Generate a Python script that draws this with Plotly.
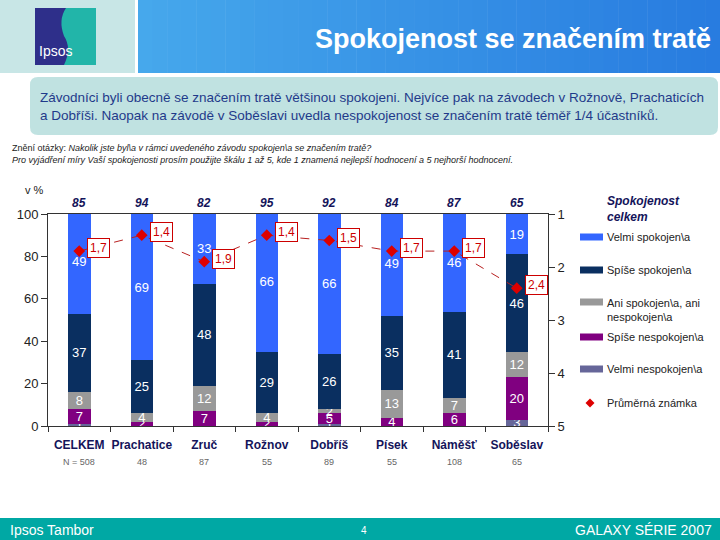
import plotly.graph_objects as go

categories = ["CELKEM", "Prachatice", "Zruč", "Rožnov", "Dobříš", "Písek", "Náměšť", "Soběslav"]
n_counts = [508, 48, 87, 55, 89, 55, 108, 65]
celkem = [85, 94, 82, 95, 92, 84, 87, 65]
velmi_spok = [49, 69, 33, 66, 66, 49, 46, 19]
spise_spok = [37, 25, 48, 29, 26, 35, 41, 46]
ani = [8, 4, 12, 4, 2, 13, 7, 12]
spise_nesp = [7, 2, 7, 2, 5, 4, 6, 20]
velmi_nesp = [1, 0, 0, 0, 1, 0, 0, 3]
prumer = [1.7, 1.4, 1.9, 1.4, 1.5, 1.7, 1.7, 2.4]

series_names = ["Velmi nespokojen\\a", "Spíše nespokojen\\a", "Ani spokojen\\a, ani nespokojen\\a",
                "Spíše spokojen\\a", "Velmi spokojen\\a"]
series_vals = [velmi_nesp, spise_nesp, ani, spise_spok, velmi_spok]
series_cols = ["#666699", "#800080", "#999999", "#0a2f60", "#3366ff"]

W, H = 720, 540
L, R, T, B = 48, 548, 214, 426


def px(x):
    return (x - L) / (R - L)


def py(y):
    return (B - y) / (B - T)


fig = go.Figure()
for name, vals, col in zip(series_names, series_vals, series_cols):
    fig.add_trace(go.Bar(
        x=categories, y=vals, name=name, marker=dict(color=col, line=dict(width=0)),
        width=0.36, text=[str(v) if v > 0 else "" for v in vals],
        textposition="inside", insidetextanchor="middle", constraintext="none",
        textangle=0, textfont=dict(color="white", size=13, family="Liberation Sans"),
        showlegend=False))

fig.add_trace(go.Scatter(
    x=categories, y=prumer, yaxis="y2", mode="lines+markers", name="Průměrná známka",
    line=dict(color="#b82020", width=1, dash="dash"),
    marker=dict(symbol="diamond", size=9, color="#dd0000"), showlegend=False))

shapes = []
ann = []

# header
shapes.append(dict(type="rect", xref="paper", yref="paper", x0=px(0), x1=px(135), y0=py(0), y1=py(73),
                   fillcolor="#c8e6e6", line=dict(width=0), layer="below"))
n = 40
x_start, x_end = 138, 720
c0, c1 = (70, 168, 236), (40, 124, 224)
for i in range(n):
    t = i / (n - 1)
    c = tuple(int(c0[k] + (c1[k] - c0[k]) * t) for k in range(3))
    xa = x_start + (x_end - x_start) * i / n
    xb = x_start + (x_end - x_start) * (i + 1) / n + 0.5
    shapes.append(dict(type="rect", xref="paper", yref="paper", x0=px(xa), x1=px(xb), y0=py(0), y1=py(73),
                       fillcolor="rgb(%d,%d,%d)" % c, line=dict(width=0), layer="below"))
# logo
shapes.append(dict(type="rect", xref="paper", yref="paper", x0=px(35), x1=px(96), y0=py(8), y1=py(65),
                   fillcolor="#2e2f8a", line=dict(width=0)))
logo_path = "M %f,%f L %f,%f L %f,%f L %f,%f Q %f,%f %f,%f Q %f,%f %f,%f Z" % (
    px(66), py(8), px(96), py(8), px(96), py(65), px(64), py(65),
    px(72), py(48), px(64), py(36), px(58), py(20), px(66), py(8))
shapes.append(dict(type="path", xref="paper", yref="paper", path=logo_path,
                   fillcolor="#22b5a9", line=dict(width=0)))
ann.append(dict(xref="paper", yref="paper", x=px(37), y=py(51), xanchor="left", yanchor="middle",
                text="Ipsos", showarrow=False, font=dict(color="white", size=14, family="Liberation Sans Narrow, Liberation Sans")))
ann.append(dict(xref="paper", yref="paper", x=px(713), y=py(39), xanchor="right", yanchor="middle",
                text="<b>Spokojenost se značením tratě</b>", showarrow=False,
                font=dict(color="white", size=27, family="Liberation Sans")))

# text box (rounded)
bx0, bx1, by0, by1, r = 30, 718, 77, 135, 8
box_path = ("M {a},{b} L {c},{b} Q {x1},{b} {x1},{d} L {x1},{e} Q {x1},{f} {c},{f} "
            "L {a},{f} Q {x0},{f} {x0},{e} L {x0},{d} Q {x0},{b} {a},{b} Z").format(
    a=px(bx0 + r), c=px(bx1 - r), b=py(by0), d=py(by0 + r), e=py(by1 - r), f=py(by1),
    x0=px(bx0), x1=px(bx1))
shapes.append(dict(type="path", xref="paper", yref="paper", path=box_path,
                   fillcolor="#c0e2e1", line=dict(width=0), layer="below"))
ann.append(dict(xref="paper", yref="paper", x=px(38), y=py(107), xanchor="left", yanchor="middle", align="left",
                text="Závodníci byli obecně se značením tratě většinou spokojeni. Nejvíce pak na závodech v Rožnově, Prachaticích<br>"
                     "a Dobříši. Naopak na závodě v Soběslavi uvedla nespokojenost se značením tratě téměř 1/4 účastníků.",
                showarrow=False, font=dict(color="#1f3a8a", size=13.5, family="Liberation Sans")))

# question
ann.append(dict(xref="paper", yref="paper", x=px(10), y=py(148), xanchor="left", yanchor="middle", align="left",
                text="Znění otázky: <i>Nakolik jste byl\\a v rámci uvedeného závodu spokojen\\a se značením tratě?</i>",
                showarrow=False, font=dict(color="#222222", size=9, family="Liberation Sans")))
ann.append(dict(xref="paper", yref="paper", x=px(10), y=py(160), xanchor="left", yanchor="middle", align="left",
                text="<i>Pro vyjádření míry Vaší spokojenosti prosím použijte škálu 1 až 5, kde 1 znamená nejlepší hodnocení a 5 nejhorší hodnocení.</i>",
                showarrow=False, font=dict(color="#222222", size=9, family="Liberation Sans")))

ann.append(dict(xref="paper", yref="paper", x=px(34), y=py(190), xanchor="center", yanchor="middle",
                text="v %", showarrow=False, font=dict(color="#222222", size=11, family="Liberation Sans")))

# top totals and N
for c, v, nn in zip(categories, celkem, n_counts):
    ann.append(dict(xref="x", yref="paper", x=c, y=py(203), xanchor="center", yanchor="middle",
                    text="<b><i>%d</i></b>" % v, showarrow=False,
                    font=dict(color="#14145a", size=12, family="Liberation Sans")))
    ann.append(dict(xref="x", yref="paper", x=c, y=py(462), xanchor="center", yanchor="middle",
                    text=("N = %d" % nn) if c == "CELKEM" else str(nn), showarrow=False,
                    font=dict(color="#666666", size=9, family="Liberation Sans")))

# mean labels
for c, m in zip(categories, prumer):
    ann.append(dict(xref="x", yref="y2", x=c, y=m, xanchor="left", yanchor="middle", xshift=8, yshift=3,
                    text=("%.1f" % m).replace(".", ","), showarrow=False,
                    font=dict(color="#cc0000", size=12, family="Liberation Sans"),
                    bgcolor="white", bordercolor="#cc0000", borderwidth=1, borderpad=2))

# legend
ann.append(dict(xref="paper", yref="paper", x=px(605), y=py(209), xanchor="left", yanchor="middle", align="left",
                text="<b><i>Spokojenost<br>celkem</i></b>", showarrow=False,
                font=dict(color="#14145a", size=12, family="Liberation Sans")))
leg_rows = [("Velmi spokojen\\a", "#3366ff", 237), ("Spíše spokojen\\a", "#0a2f60", 270),
            ("Ani spokojen\\a, ani<br>nespokojen\\a", "#999999", 302),
            ("Spíše nespokojen\\a", "#800080", 337), ("Velmi nespokojen\\a", "#666699", 369)]
for txt, col, yy in leg_rows:
    shapes.append(dict(type="rect", xref="paper", yref="paper", x0=px(580), x1=px(603), y0=py(yy - 3.5), y1=py(yy + 3.5),
                       fillcolor=col, line=dict(width=0)))
    two = "<br>" in txt
    ann.append(dict(xref="paper", yref="paper", x=px(605), y=py(yy + 8 if two else yy), xanchor="left", yanchor="middle",
                    align="left", text=txt, showarrow=False,
                    font=dict(color="#222222", size=11, family="Liberation Sans")))
d = 4.5
diamond = "M %f,%f L %f,%f L %f,%f L %f,%f Z" % (px(590), py(403 - d), px(590 + d), py(403), px(590), py(403 + d), px(590 - d), py(403))
shapes.append(dict(type="path", xref="paper", yref="paper", path=diamond, fillcolor="#dd0000", line=dict(width=0)))
ann.append(dict(xref="paper", yref="paper", x=px(605), y=py(403), xanchor="left", yanchor="middle",
                text="Průměrná známka", showarrow=False, font=dict(color="#222222", size=11, family="Liberation Sans")))

# footer
shapes.append(dict(type="rect", xref="paper", yref="paper", x0=px(0), x1=px(720), y0=py(518), y1=py(540),
                   fillcolor="#00a8a4", line=dict(width=0), layer="below"))
ann.append(dict(xref="paper", yref="paper", x=px(8), y=py(530), xanchor="left", yanchor="middle",
                text="Ipsos Tambor", showarrow=False,
                font=dict(color="white", size=14, family="Liberation Sans Narrow, Liberation Sans")))
ann.append(dict(xref="paper", yref="paper", x=px(364), y=py(530), xanchor="center", yanchor="middle",
                text="4", showarrow=False, font=dict(color="white", size=10, family="Liberation Sans")))
ann.append(dict(xref="paper", yref="paper", x=px(714), y=py(530), xanchor="right", yanchor="middle",
                text="GALAXY SÉRIE 2007", showarrow=False,
                font=dict(color="white", size=14, family="Liberation Sans Narrow, Liberation Sans")))

fig.update_layout(
    width=W, height=H, barmode="stack", bargap=0.6,
    margin=dict(l=L, r=W - R, t=T, b=H - B, autoexpand=False),
    paper_bgcolor="white", plot_bgcolor="white",
    shapes=shapes, annotations=ann, showlegend=False,
    xaxis=dict(type="category", range=[-0.5, 7.5], showline=True, linecolor="#333333", linewidth=1, mirror=True,
               ticks="outside", tickson="boundaries", ticklen=5, tickcolor="#333333", showgrid=False,
               tickvals=categories, ticktext=["<b>%s</b>" % c for c in categories], ticklabelstandoff=8,
               tickangle=0,
               tickfont=dict(color="#14145a", size=12, family="Liberation Sans Narrow, Liberation Sans"),
               automargin=False),
    yaxis=dict(range=[0, 100], tickvals=[0, 20, 40, 60, 80, 100], showline=True, linecolor="#333333", linewidth=1,
               ticks="outside", ticklen=6, tickcolor="#333333", showgrid=False, zeroline=False,
               tickfont=dict(color="#222222", size=13, family="Liberation Sans"), automargin=False),
    yaxis2=dict(overlaying="y", side="right", range=[5, 1], tickvals=[1, 2, 3, 4, 5], showline=True,
                linecolor="#333333", linewidth=1, ticks="outside", ticklen=6, tickcolor="#333333",
                showgrid=False, zeroline=False, tickfont=dict(color="#222222", size=13, family="Liberation Sans"),
                automargin=False),
)

fig.write_html("out.html", config={"displayModeBar": False},
               post_script="document.body.style.margin='0';")
